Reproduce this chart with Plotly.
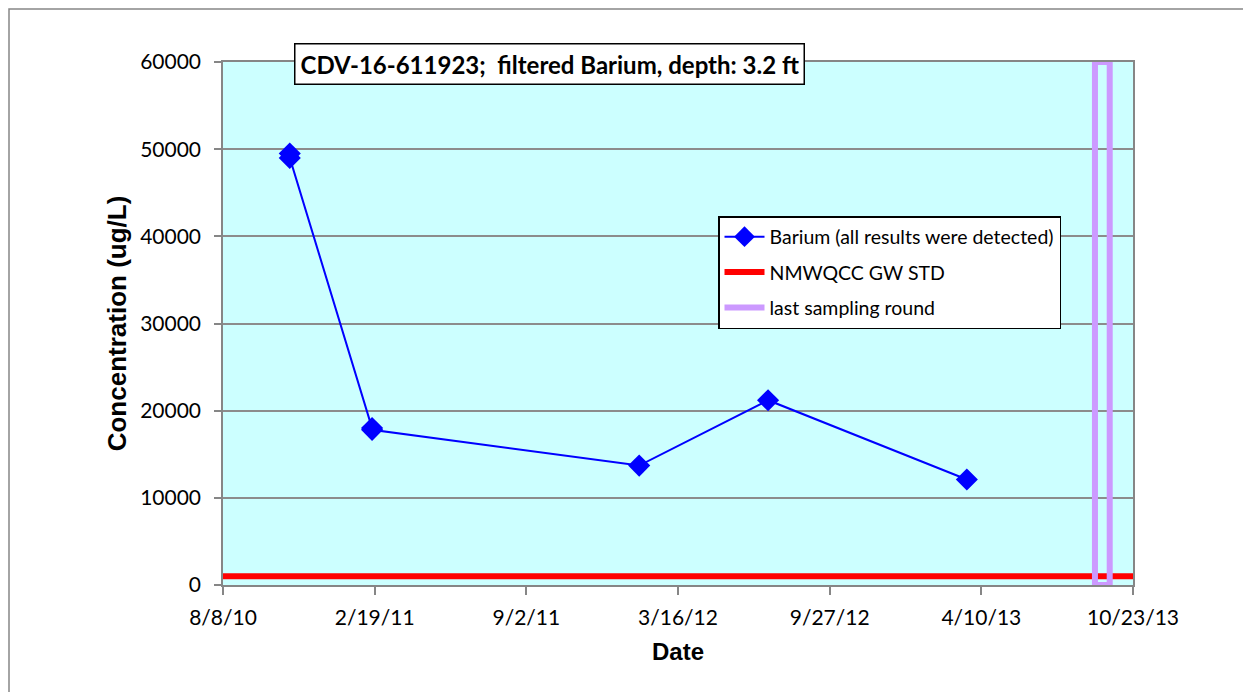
import datetime as dt
import plotly.graph_objects as go

# ---- data ----
barium_dates = ["2010-11-02", "2010-11-02", "2011-02-16", "2011-02-16",
                "2012-01-26", "2012-07-10", "2013-03-23"]
barium_values = [49500, 49000, 18000, 17800, 13700, 21200, 12100]
std_dates = ["2010-08-08", "2013-10-23"]
std_values = [1000, 1000]
last_round_dates = ["2013-09-04", "2013-09-04", "2013-09-23", "2013-09-23", "2013-09-04"]
last_round_values = [0, 60000, 60000, 0, 0]
tick_labels = ["8/8/10", "2/19/11", "9/2/11", "3/16/12", "9/27/12", "4/10/13", "10/23/13"]
y_ticks = [0, 10000, 20000, 30000, 40000, 50000, 60000]
y_tick_labels = ["0", "10000", "20000", "30000", "40000", "50000", "60000"]

title_text = "CDV-16-611923;  filtered Barium, depth: 3.2 ft"

# x ticks evenly spread across axis range (Excel style major unit)
start = dt.datetime(2010, 8, 8)
end = dt.datetime(2013, 10, 23)
step = (end - start) / (len(tick_labels) - 1)
tick_vals = [(start + i * step).strftime("%Y-%m-%d %H:%M:%S") for i in range(len(tick_labels))]

OFF = 8  # page body margin
W, H = 1251 - OFF, 692 - OFF
PL, PR, PT, PB = 223, 1133, 62, 585  # plot area in screen pixels
L, T = PL - OFF, PT - OFF
pw, ph = PR - PL, PB - PT
R, B = W - L - pw, H - T - ph

def px_x(p):
    return (p - PL) / pw

def px_y(p):
    return (PB - p) / ph

tick_font = dict(family="Lato, Carlito, Calibri, sans-serif", size=21, color="black")

fig = go.Figure()
fig.add_trace(go.Scatter(
    x=barium_dates, y=barium_values, mode="lines+markers",
    name="Barium (all results were detected)",
    line=dict(color="#0000FF", width=2),
    marker=dict(symbol="diamond", size=17, color="#0000FF", line=dict(width=0)),
    legendgroup="a",
))
fig.add_trace(go.Scatter(
    x=std_dates, y=std_values, mode="lines", name="NMWQCC GW STD",
    line=dict(color="#FF0000", width=6), legendgroup="b",
))
fig.add_trace(go.Scatter(
    x=last_round_dates, y=last_round_values, mode="lines", name="last sampling round",
    line=dict(color="#CC99FF", width=6), legendgroup="c",
))

fig.update_layout(
    width=W, height=H,
    margin=dict(l=L, r=R, t=T, b=B),
    paper_bgcolor="white",
    plot_bgcolor="#CCFFFF",
    showlegend=True,
    legend=dict(
        x=px_x(718), y=px_y(216), xanchor="left", yanchor="top",
        bgcolor="white", bordercolor="black", borderwidth=1.5,
        font=dict(family="Lato, Carlito, Calibri, sans-serif", size=19.5, color="black"),
        tracegroupgap=7, traceorder="grouped", itemwidth=40,
    ),
    xaxis=dict(
        type="date", range=[start.strftime("%Y-%m-%d"), end.strftime("%Y-%m-%d")],
        tickmode="array", tickvals=tick_vals, ticktext=tick_labels,
        ticks="outside", ticklen=8, tickcolor="#868686", tickwidth=1.5,
        showline=True, linecolor="#868686", linewidth=1.5, mirror=True,
        showgrid=False, zeroline=False, tickfont=tick_font, ticklabelstandoff=5,
        title=dict(text="<b>Date</b>", font=dict(family="Liberation Sans, Arial, sans-serif", size=24, color="black"), standoff=15),
    ),
    yaxis=dict(
        range=[0, 60000], tickmode="array", tickvals=y_ticks, ticktext=y_tick_labels,
        ticks="outside", ticklen=7, tickcolor="#868686", tickwidth=1.5,
        showline=True, linecolor="#868686", linewidth=1.5, mirror=True,
        showgrid=True, gridcolor="#8C8C8C", gridwidth=1.5, zeroline=False,
        tickfont=tick_font, ticklabelstandoff=9,
        title=dict(text="<b>Concentration (ug/L)</b>", font=dict(family="Liberation Sans, Arial, sans-serif", size=26, color="black"), standoff=6),
    ),
    annotations=[dict(
        text="<b>" + title_text + "</b>", xref="paper", yref="paper",
        x=px_x(549), y=px_y(64), xanchor="center", yanchor="middle", showarrow=False,
        font=dict(family="Lato, Carlito, Calibri, sans-serif", size=24, color="black"),
        bgcolor="white", bordercolor="black", borderwidth=1.5, borderpad=5,
    )],
    shapes=[dict(
        type="rect", xref="paper", yref="paper",
        x0=px_x(9), x1=px_x(1262), y0=px_y(702), y1=px_y(9),
        line=dict(color="#868686", width=1.5), layer="below",
    )],
)

fig.write_html("out.html")
